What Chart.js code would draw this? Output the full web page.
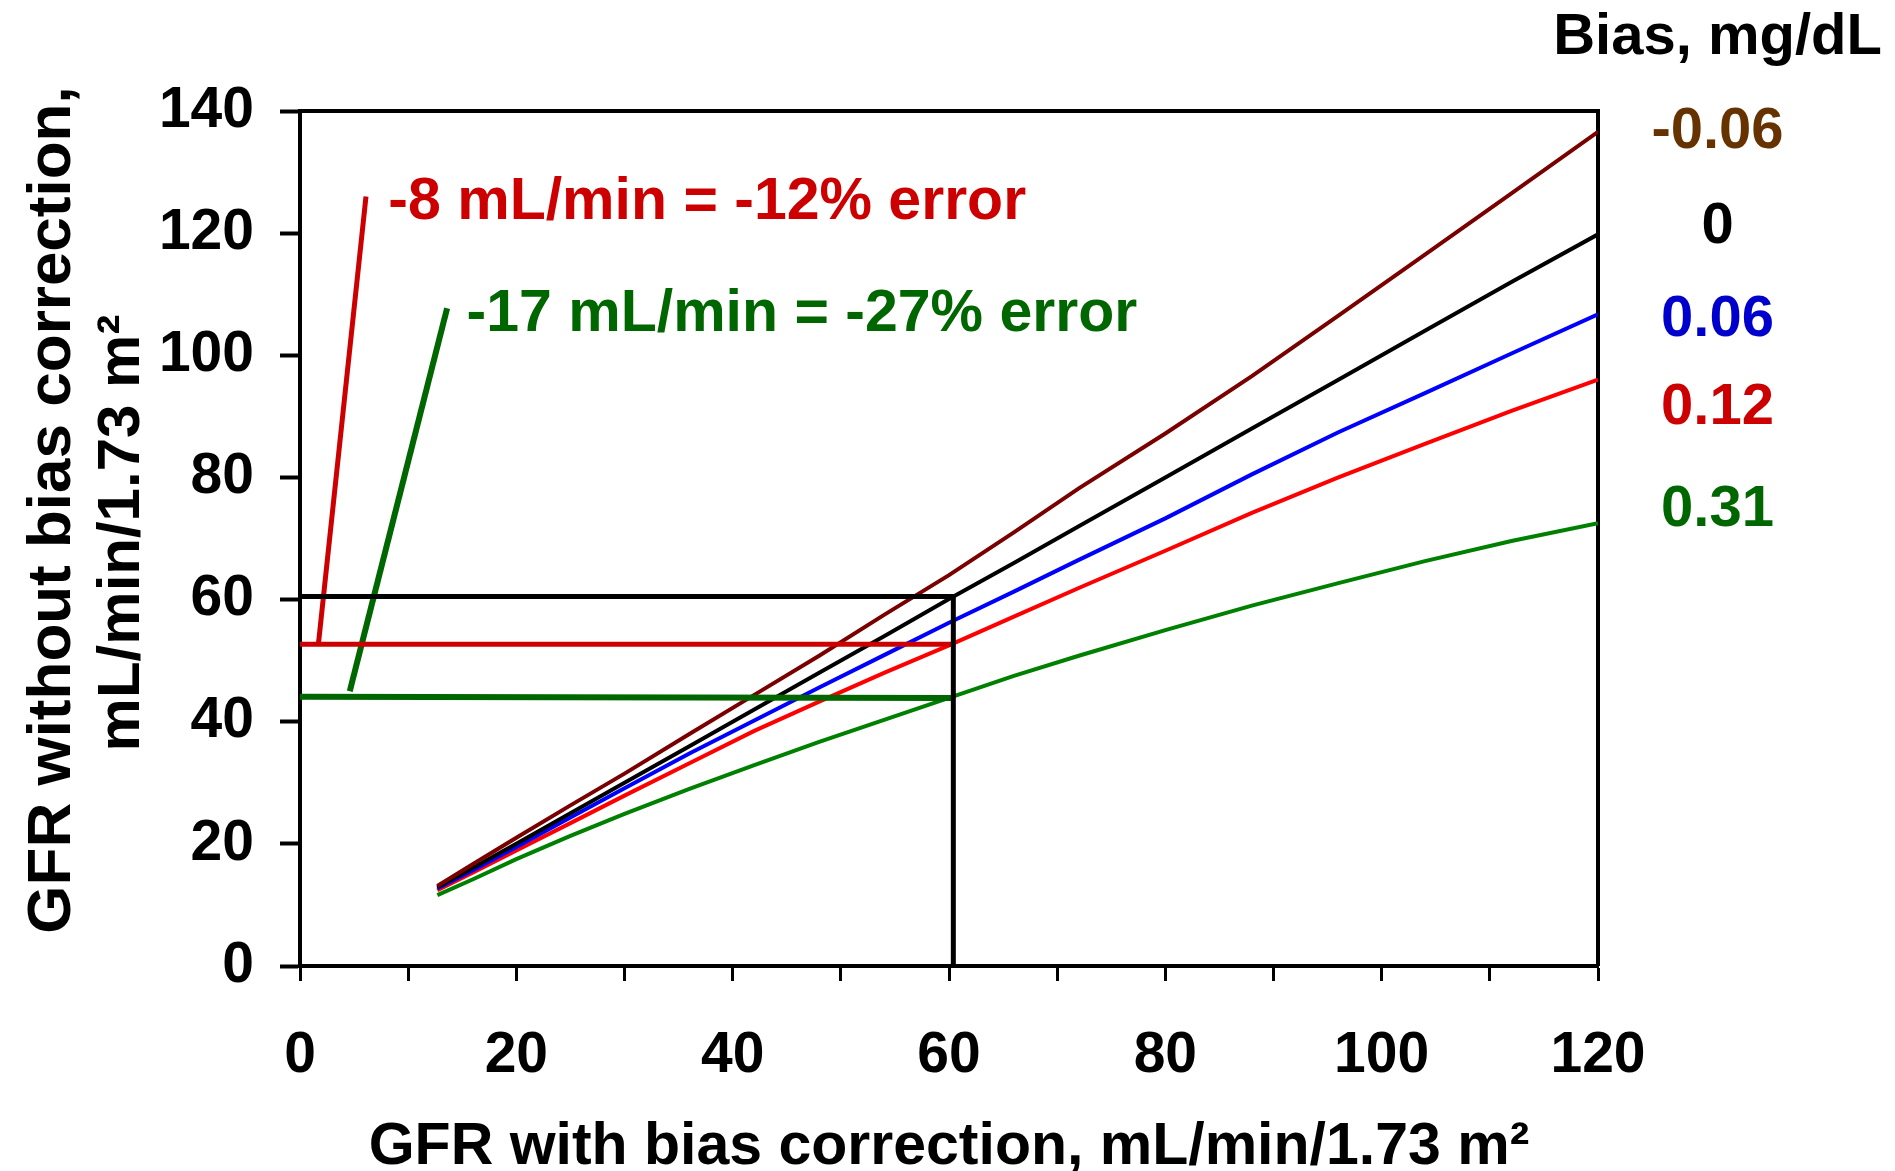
<!DOCTYPE html>
<html lang="en">
<head>
<meta charset="UTF-8" />
<title>GFR with and without bias correction</title>
<style>
  html, body { margin: 0; padding: 0; background: #fff; }
  .wrap { width: 1895px; height: 1171px; }
</style>
</head>
<body>
<div class="wrap"><canvas id="gfrChart"></canvas></div>
<script src="https://cdn.jsdelivr.net/npm/chart.js"></script>
<script>
// GFR with bias correction (x)
const gfrCorrected = [12.7, 16, 20, 25, 30, 36, 42, 48, 54, 60, 66, 72, 80, 88, 96, 104, 112, 120];

// GFR without bias correction (y), one list per creatinine bias
const biasNeg006 = [13.1, 16.7, 21.0, 26.3, 31.5, 38.0, 44.4, 50.8, 57.5, 64.0, 71.0, 78.2, 87.2, 96.6, 106.5, 116.5, 126.5, 136.6];
const bias0      = [12.9, 16.1, 20.0, 25.0, 30.0, 36.0, 42.0, 48.0, 54.0, 60.1, 66.0, 72.0, 80.0, 88.0, 96.0, 104.0, 112.0, 119.8];
const bias006    = [12.7, 15.7, 19.5, 24.3, 29.1, 34.8, 40.2, 45.6, 50.9, 56.2, 61.3, 66.5, 73.3, 80.5, 87.4, 93.8, 100.3, 106.7];
const bias012    = [12.4, 15.3, 18.9, 23.4, 27.9, 33.2, 38.5, 43.3, 48.0, 52.5, 57.2, 61.9, 68.0, 74.2, 80.0, 85.5, 90.9, 96.0];
const bias031    = [11.6, 14.2, 17.5, 21.3, 24.9, 29.0, 32.9, 36.7, 40.3, 43.9, 47.5, 50.8, 55.0, 59.0, 62.7, 66.3, 69.6, 72.5];

const biasLabels = ["-0.06", "0", "0.06", "0.12", "0.31"];

// reading guides at GFR 60
const guideBlack  = [[0, 60.5], [60.4, 60.5], [60.4, 0]];
const guideRed    = [[0, 52.7], [60.5, 52.7]];
const leaderRed   = [[1.7, 52.7], [6.1, 126]];
const guideGreen  = [[0, 44.1], [60.3, 43.9]];
const leaderGreen = [[4.6, 45], [13.6, 107.7]];

const notes = ["-8 mL/min = -12% error", "-17 mL/min = -27% error"];

const yTicks = [0, 20, 40, 60, 80, 100, 120, 140];

const FONT = '"Liberation Sans", Arial, sans-serif';
const curveColors = ["#7a0000", "#000000", "#0000ff", "#ff0000", "#008000"];
const labelColors = ["#663300", "#000000", "#0000cc", "#cc0000", "#006600"];

const toPts = (arr) => arr.map((p) => ({ x: p[0], y: p[1] }));
const curve = (ys) => ys.map((v, i) => ({ x: gfrCorrected[i], y: v }));

const guide = (pts, color, w) => ({
  data: toPts(pts),
  borderColor: color,
  borderWidth: w,
  showLine: true,
  pointRadius: 0,
  fill: false,
});

const curveSets = [biasNeg006, bias0, bias006, bias012, bias031].map((ys, i) => ({
  label: biasLabels[i],
  data: curve(ys),
  borderColor: curveColors[i],
  borderWidth: 4,
  showLine: true,
  pointRadius: 0,
  fill: false,
}));

// box top + right edge
const frame = {
  id: "frame",
  beforeDatasetsDraw(chart) {
    const { ctx, chartArea: { left, top, right, bottom } } = chart;
    ctx.save();
    ctx.strokeStyle = "#000";
    ctx.lineWidth = 4;
    ctx.beginPath();
    ctx.moveTo(left - 2, top);
    ctx.lineTo(right, top);
    ctx.lineTo(right, bottom);
    ctx.stroke();
    ctx.restore();
  },
};

const texts = {
  id: "texts",
  afterDraw(chart) {
    const { ctx, scales: { x, y } } = chart;
    ctx.save();
    ctx.textBaseline = "middle";

    ctx.font = "bold 59px " + FONT;
    ctx.textAlign = "left";
    ctx.fillStyle = "#cc0000";
    ctx.fillText(notes[0], x.getPixelForValue(8.17), y.getPixelForValue(124.9));
    ctx.fillStyle = "#006600";
    ctx.fillText(notes[1], x.getPixelForValue(15.4), y.getPixelForValue(106.6));

    // bias key on the right
    ctx.font = "bold 58px " + FONT;
    ctx.textAlign = "center";
    const kx = x.getPixelForValue(131.05);
    ctx.fillStyle = "#000";
    ctx.fillText("Bias, mg/dL", kx, y.getPixelForValue(152.0));
    const keyY = [136.6, 121.0, 105.8, 91.3, 74.7];
    biasLabels.forEach((lab, i) => {
      ctx.fillStyle = labelColors[i];
      ctx.fillText(lab, kx, y.getPixelForValue(keyY[i]));
    });

    // y axis title, two lines
    ctx.fillStyle = "#000";
    ctx.save();
    ctx.font = "bold 62px " + FONT;
    ctx.translate(53, 510);
    ctx.rotate(-Math.PI / 2);
    ctx.fillText("GFR without bias correction,", 0, 0);
    ctx.restore();
    ctx.save();
    ctx.font = "bold 60px " + FONT;
    ctx.translate(122, 533);
    ctx.rotate(-Math.PI / 2);
    ctx.fillText("mL/min/1.73 m\u00b2", 0, 0);
    ctx.restore();
    ctx.restore();
  },
};

const ctx = document.getElementById("gfrChart");
const gfrChart = new Chart(ctx, {
  type: "scatter",
  data: {
    datasets: [
      guide(guideBlack, "#000000", 5),
      guide(guideRed, "#cc0000", 5),
      guide(leaderRed, "#cc0000", 5),
      guide(guideGreen, "#006600", 6),
      guide(leaderGreen, "#006600", 6),
      ...curveSets,
    ],
  },
  options: {
    responsive: true,
    maintainAspectRatio: false,
    animation: false,
    layout: { padding: { left: 0, right: 297, top: 111, bottom: 0 } },
    elements: { line: { tension: 0 } },
    plugins: {
      legend: { display: false },
      tooltip: { enabled: false },
    },
    scales: {
      x: {
        type: "linear",
        min: 0,
        max: 120,
        afterFit(s) { s.height = 205; },
        border: { display: true, color: "#000", width: 4 },
        grid: { drawOnChartArea: false, drawTicks: true, tickLength: 15, tickWidth: 3, tickColor: "#000" },
        ticks: {
          stepSize: 10,
          autoSkip: false,
          maxRotation: 0,
          padding: 41,
          color: "#000",
          font: { family: FONT, size: 57, weight: "bold" },
          callback: (v) => (v % 20 === 0 ? v : ""),
        },
        title: {
          display: true,
          text: "GFR with bias correction, mL/min/1.73 m\u00b2",
          color: "#000",
          padding: { top: 0, bottom: 0 },
          font: { family: FONT, size: 59, weight: "bold", lineHeight: 0.8 },
        },
      },
      y: {
        type: "linear",
        min: 0,
        max: 140,
        afterFit(s) { s.width = 300; },
        afterBuildTicks(s) { s.ticks = yTicks.map((v) => ({ value: v })); },
        border: { display: true, color: "#000", width: 4 },
        grid: { drawOnChartArea: false, drawTicks: true, tickLength: 20, tickWidth: 4, tickColor: "#000" },
        ticks: {
          padding: 26,
          color: "#000",
          font: { family: FONT, size: 57, weight: "bold" },
        },
      },
    },
  },
  plugins: [frame, texts],
});
</script>
</body>
</html>
